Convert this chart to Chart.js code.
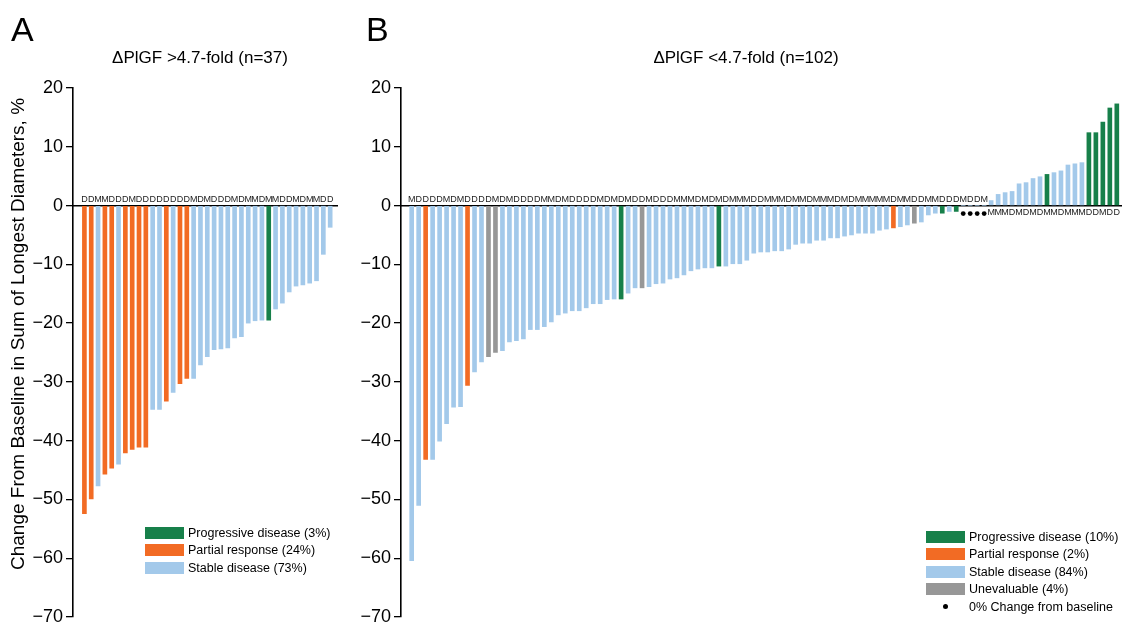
<!DOCTYPE html>
<html>
<head>
<meta charset="utf-8">
<script src="https://cdn.jsdelivr.net/npm/chart.js@4.4.1/dist/chart.umd.min.js"></script>
<style>
  body { margin: 0; width: 1125px; height: 629px; overflow: hidden; background: #fff;
         font-family: "Liberation Sans", Arial, sans-serif; color: #000; position: relative; }
  .abs { position: absolute; }
  .panel { font-size: 34px; line-height: 1; }
  .ttl { font-size: 17px; line-height: 1; white-space: nowrap; transform: translate(-50%, -50%); }
  .ytitle { font-size: 19px; line-height: 1; white-space: nowrap; transform: translate(-50%, -50%) rotate(-90deg); }
  .leg { font-size: 12.5px; line-height: 1; }
  .leg .row { display: flex; align-items: center; height: 17.5px; }
  .leg .sw { width: 39px; height: 12px; margin-right: 4px; flex: none; }
  .leg .dotcell { width: 39px; margin-right: 4px; display: flex; justify-content: center; flex: none; }
  .leg .dot { width: 5px; height: 5px; border-radius: 50%; background: #000; }
</style>
</head>
<body>
<canvas id="chartA" class="abs" style="left:0;top:0" width="345" height="629"></canvas>
<canvas id="chartB" class="abs" style="left:345px;top:0" width="780" height="629"></canvas>

<div class="abs panel" style="left:11px;top:12px">A</div>
<div class="abs panel" style="left:366px;top:12px">B</div>
<div class="abs ttl" style="left:200px;top:57px">ΔPlGF &gt;4.7-fold (n=37)</div>
<div class="abs ttl" style="left:746px;top:57px">ΔPlGF &lt;4.7-fold (n=102)</div>
<div class="abs ytitle" style="left:17px;top:334px">Change From Baseline in Sum of Longest Diameters, %</div>

<div class="abs leg" id="legA" style="left:145px;top:524px"></div>
<div class="abs leg" id="legB" style="left:926px;top:528px"></div>

<script>
// Response categories and colours
const STATUS_COLORS = { G: '#17804a', P: '#f26b24', S: '#a3c9ea', U: '#979797' };

// Panel A: ΔPlGF >4.7-fold, 37 patients (change in % from baseline)
const valuesA = [
  -52.4, -49.9, -47.7, -45.7, -44.7, -44.0, -42.1, -41.5, -41.1, -41.1,
  -34.7, -34.7, -33.3, -31.8, -30.3, -29.4, -29.4, -27.1, -25.7, -24.5,
  -24.4, -24.2, -22.5, -22.3, -20.0, -19.6, -19.5, -19.5, -17.6, -16.6,
  -14.7, -13.7, -13.5, -13.2, -12.8, -8.3, -3.7
];
const statusA = 'PPSPPSPPPP SSPSPPSSSS SSSSSSSGSS SSSSSSS'.replace(/ /g, '').split('');
const lettersA = 'DDMMDDDMDD DDDDDDMDMD DDMDMMDMMD DMDMMDD'.replace(/ /g, '').split('');

// Panel B: ΔPlGF <4.7-fold, 102 patients
const valuesB = [
  -60.4, -51.0, -43.2, -43.2, -40.1, -37.1, -34.3, -34.2, -30.6, -28.3,
  -26.6, -25.7, -25.0, -24.7, -23.2, -23.0, -22.7, -21.1, -21.1, -20.6,
  -19.8, -18.6, -18.3, -17.9, -17.9, -17.4, -16.7, -16.7, -16.0, -15.9,
  -15.9, -14.9, -14.0, -14.0, -13.8, -13.3, -13.2, -12.5, -12.3, -11.8,
  -11.1, -10.8, -10.6, -10.6, -10.3, -10.3, -9.9, -9.9, -9.3, -8.1,
  -7.9, -7.9, -7.7, -7.7, -7.4, -6.6, -6.4, -6.4, -5.9, -5.9,
  -5.5, -5.5, -5.2, -5.0, -4.7, -4.7, -4.7, -4.2, -4.0, -3.8,
  -3.6, -3.3, -3.0, -2.8, -1.6, -1.3, -1.3, -1.0, -1.0, 0,
  0, 0, 0, 0.85, 1.9, 2.2, 2.4, 3.7, 3.9, 4.6,
  4.9, 5.3, 5.6, 5.9, 6.9, 7.1, 7.3, 12.4, 12.4, 14.2,
  16.6, 17.3
];
const statusB = ('SSPSSSSSPS SUUSSSSSSS SSSSSSSSSS GSSUSSSSSS SSSSGSSSSS ' +
                 'SSSSSSSSSS SSSSSSSSSP SSUSSSGSGS SSSSSSSSSS SGSSSSSGGG GG')
                 .replace(/ /g, '').split('');
const lettersB = ('MDDDDMDMDD DDMDMDDDDM MDMDDDDMDM DMDDM ' +
                  'DDDMMMDMDM DMMMDDMMMD MMDMMMDMDM MM ' +
                  'MMDMMDDMMDDDMDDM ' +
                  'MMMDMDMDMMDMMMDDMDD').replace(/ /g, '').split('');

// Y-axis ticks
const yTicks = [20, 10, 0, -10, -20, -30, -40, -50, -60, -70];

// Legends
const legendA = [
  ['G', 'Progressive disease (3%)'],
  ['P', 'Partial response (24%)'],
  ['S', 'Stable disease (73%)']
];
const legendB = [
  ['G', 'Progressive disease (10%)'],
  ['P', 'Partial response (2%)'],
  ['S', 'Stable disease (84%)'],
  ['U', 'Unevaluable (4%)'],
  ['dot', '0% Change from baseline']
];

function buildLegend(el, items) {
  items.forEach(([key, text]) => {
    const row = document.createElement('div');
    row.className = 'row';
    if (key === 'dot') {
      const c = document.createElement('div');
      c.className = 'dotcell';
      const d = document.createElement('div');
      d.className = 'dot';
      c.appendChild(d);
      row.appendChild(c);
    } else {
      const sw = document.createElement('div');
      sw.className = 'sw';
      sw.style.background = STATUS_COLORS[key];
      row.appendChild(sw);
    }
    const t = document.createElement('span');
    t.textContent = text;
    row.appendChild(t);
    el.appendChild(row);
  });
}
buildLegend(document.getElementById('legA'), legendA);
buildLegend(document.getElementById('legB'), legendB);

// Writes the patient letter (D/M) next to each bar and a dot for 0% change
const patientMarkers = {
  id: 'patientMarkers',
  afterDatasetsDraw(chart, args, opts) {
    const { ctx } = chart;
    const x = chart.scales.x, y = chart.scales.y;
    const y0 = y.getPixelForValue(0);
    ctx.save();
    ctx.font = '9px "Liberation Sans", Arial, sans-serif';
    ctx.fillStyle = '#222';
    ctx.textAlign = 'center';
    opts.values.forEach((v, i) => {
      const px = x.getPixelForValue(i);
      if (v > 0) {
        ctx.textBaseline = 'top';
        ctx.fillText(opts.letters[i], px, y0 + 2);
      } else {
        ctx.textBaseline = 'alphabetic';
        ctx.fillText(opts.letters[i], px, y0 - 3.5);
      }
      if (v === 0) {
        ctx.beginPath();
        ctx.fillStyle = '#000';
        ctx.arc(px, y0 + 8, 2.4, 0, Math.PI * 2);
        ctx.fill();
        ctx.fillStyle = '#222';
      }
    });
    ctx.restore();
  }
};

function makeChart(id, values, status, letters, opt) {
  return new Chart(document.getElementById(id), {
    type: 'bar',
    data: {
      datasets: [{
        data: values.map((v, i) => ({ x: i, y: v })),
        backgroundColor: status.map(s => STATUS_COLORS[s]),
        borderWidth: 0,
        barThickness: 4
      }]
    },
    options: {
      responsive: false,
      animation: false,
      layout: { padding: { left: 0, top: 88, right: opt.padRight, bottom: 9 } },
      plugins: {
        legend: { display: false },
        tooltip: { enabled: false },
        patientMarkers: { values, letters }
      },
      scales: {
        x: {
          type: 'linear',
          offset: false,
          min: opt.xMin,
          max: opt.xMax,
          position: { y: 0 },
          ticks: { display: false },
          grid: { display: false, offset: false },
          border: { display: true, color: '#000', width: 1.6 }
        },
        y: {
          min: -70,
          max: 20,
          afterBuildTicks: s => { s.ticks = yTicks.map(v => ({ value: v })); },
          ticks: {
            color: '#000',
            padding: 3,
            font: { family: '"Liberation Sans", Arial, sans-serif', size: 18, lineHeight: 1 },
            callback: v => String(v).replace('-', '\u2212')
          },
          grid: { drawOnChartArea: false, drawTicks: true, tickLength: 7, color: '#000', lineWidth: 1.3 },
          border: { display: true, color: '#000', width: 1.6 },
          afterFit: s => { s.width = opt.axisWidth; }
        }
      }
    },
    plugins: [patientMarkers]
  });
}

makeChart('chartA', valuesA, statusA, lettersA, { xMin: -1.67, xMax: 37.0, padRight: 8, axisWidth: 73 });
makeChart('chartB', valuesB, statusB, lettersB, { xMin: -1.53, xMax: 101.6, padRight: 4, axisWidth: 56 });
</script>
</body>
</html>
